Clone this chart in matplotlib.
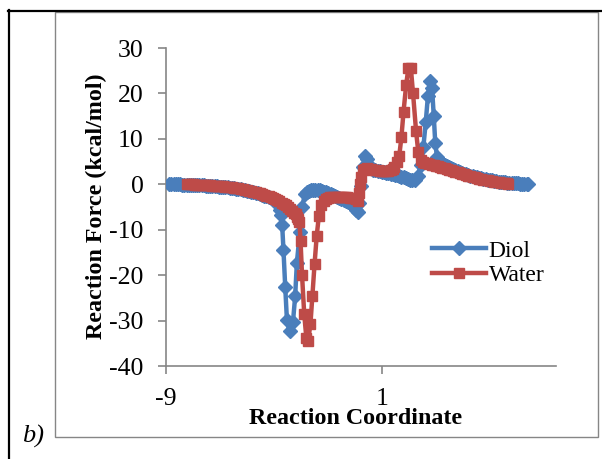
import matplotlib
matplotlib.use("Agg")
import matplotlib.pyplot as plt
from matplotlib.lines import Line2D
from matplotlib.patches import Rectangle

plt.rcParams['font.family'] = ['Liberation Serif', 'DejaVu Serif']
plt.rcParams['axes.unicode_minus'] = False

# Diol reaction force profile (IRC points)
diol_x = [-8.85, -8.75, -8.65, -8.55, -8.45, -8.35, -8.25, -8.15, -8.05, -7.95,
          -7.85, -7.75, -7.65, -7.55, -7.45, -7.35, -7.25, -7.15, -7.05, -6.95,
          -6.85, -6.75, -6.65, -6.55, -6.45, -6.35, -6.25, -6.15, -6.05, -5.95,
          -5.85, -5.75, -5.65, -5.55, -5.45, -5.35, -5.25, -5.15, -5.05, -4.95,
          -4.85, -4.75, -4.65, -4.55, -4.45, -4.35, -4.25, -4.15, -4.05, -3.95,
          -3.87, -3.80, -3.73, -3.68, -3.62, -3.56, -3.48, -3.40, -3.28, -3.12,
          -3.02, -2.94, -2.80, -2.68, -2.58, -2.48, -2.38, -2.28, -2.18, -2.08,
          -1.98, -1.88, -1.78, -1.68, -1.58, -1.48, -1.38, -1.28, -1.18, -1.08,
          -0.98, -0.88, -0.78, -0.68, -0.58, -0.48, -0.38, -0.28, -0.20, -0.13,
          -0.05, 0.05, 0.12, 0.22, 0.30, 0.40, 0.50, 0.60, 0.70, 0.80,
          0.90, 1.00, 1.10, 1.20, 1.30, 1.40, 1.50, 1.60, 1.70, 1.80,
          1.90, 2.00, 2.10, 2.20, 2.30, 2.40, 2.52, 2.65, 2.80, 2.92,
          3.03, 3.13, 3.23, 3.32, 3.40, 3.47, 3.55, 3.62, 3.70, 3.80,
          3.90, 4.00, 4.10, 4.20, 4.30, 4.40, 4.50, 4.60, 4.70, 4.80,
          4.90, 5.00, 5.10, 5.20, 5.30, 5.40, 5.50, 5.60, 5.70, 5.80,
          5.90, 6.00, 6.10, 6.20, 6.30, 6.40, 6.50, 6.60, 6.70, 6.80,
          6.90, 7.00, 7.10, 7.20, 7.30, 7.40, 7.50, 7.60, 7.70, 7.75]
diol_y = [0.00, -0.01, -0.01, -0.02, -0.03, -0.04, -0.05, -0.06, -0.08, -0.09,
          -0.11, -0.13, -0.15, -0.17, -0.20, -0.22, -0.25, -0.28, -0.31, -0.34,
          -0.38, -0.42, -0.46, -0.50, -0.55, -0.60, -0.65, -0.70, -0.76, -0.82,
          -0.89, -0.96, -1.04, -1.12, -1.21, -1.30, -1.40, -1.51, -1.62, -1.74,
          -1.87, -2.00, -2.15, -2.30, -2.47, -2.65, -2.85, -3.06, -3.30, -3.60,
          -4.00, -4.60, -5.60, -6.70, -9.00, -14.50, -22.50, -29.90, -32.40, -30.30,
          -24.70, -17.30, -10.40, -5.00, -2.10, -1.60, -1.38, -1.28, -1.22, -1.20,
          -1.24, -1.32, -1.45, -1.60, -1.78, -1.96, -2.15, -2.36, -2.58, -2.80,
          -3.03, -3.25, -3.46, -3.68, -3.90, -4.15, -4.50, -5.00, -5.60, -6.20,
          -4.20, -0.30, 3.80, 6.20, 5.60, 4.30, 3.60, 3.25, 3.05, 2.92,
          2.82, 2.72, 2.62, 2.52, 2.42, 2.32, 2.22, 2.12, 2.00, 1.86,
          1.70, 1.52, 1.32, 1.12, 0.95, 0.85, 0.95, 1.80, 4.20, 8.30,
          13.80, 19.50, 22.80, 21.20, 15.00, 9.00, 6.00, 5.40, 4.95, 4.55,
          4.25, 3.95, 3.70, 3.48, 3.27, 3.07, 2.88, 2.70, 2.53, 2.37,
          2.22, 2.07, 1.93, 1.80, 1.67, 1.55, 1.43, 1.32, 1.21, 1.11,
          1.01, 0.92, 0.84, 0.76, 0.68, 0.61, 0.55, 0.49, 0.43, 0.38,
          0.33, 0.29, 0.25, 0.22, 0.19, 0.16, 0.13, 0.11, 0.09, 0.08]

# Water reaction force profile (IRC points)
water_x = [-8.05, -7.95, -7.85, -7.75, -7.65, -7.55, -7.45, -7.35, -7.25, -7.15,
           -7.05, -6.95, -6.85, -6.75, -6.65, -6.55, -6.45, -6.35, -6.25, -6.15,
           -6.05, -5.95, -5.85, -5.75, -5.65, -5.55, -5.45, -5.35, -5.25, -5.15,
           -5.05, -4.95, -4.85, -4.75, -4.65, -4.55, -4.45, -4.35, -4.25, -4.15,
           -4.05, -3.95, -3.85, -3.75, -3.65, -3.55, -3.45, -3.35, -3.25, -3.15,
           -3.07, -3.00, -2.93, -2.87, -2.82, -2.77, -2.70, -2.60, -2.50, -2.42,
           -2.31, -2.22, -2.12, -2.02, -1.92, -1.80, -1.70, -1.60, -1.50, -1.40,
           -1.30, -1.20, -1.10, -1.00, -0.90, -0.80, -0.70, -0.60, -0.50, -0.40,
           -0.30, -0.20, -0.12, -0.05, 0.00, 0.05, 0.12, 0.20, 0.30, 0.40,
           0.50, 0.60, 0.70, 0.80, 0.90, 1.00, 1.10, 1.20, 1.30, 1.40,
           1.50, 1.58, 1.70, 1.80, 1.90, 2.00, 2.12, 2.22, 2.34, 2.44,
           2.58, 2.68, 2.80, 2.90, 3.00, 3.10, 3.20, 3.30, 3.40, 3.50,
           3.60, 3.70, 3.80, 3.90, 4.00, 4.10, 4.20, 4.30, 4.40, 4.50,
           4.60, 4.70, 4.80, 4.90, 5.00, 5.10, 5.20, 5.30, 5.40, 5.50,
           5.60, 5.70, 5.80, 5.90, 6.00, 6.10, 6.20, 6.30, 6.40, 6.50,
           6.60, 6.70, 6.80, 6.85]
water_y = [0.00, -0.01, -0.02, -0.03, -0.05, -0.07, -0.09, -0.11, -0.14, -0.17,
           -0.20, -0.23, -0.27, -0.31, -0.35, -0.39, -0.43, -0.47, -0.52, -0.57,
           -0.62, -0.69, -0.76, -0.84, -0.92, -1.01, -1.10, -1.20, -1.30, -1.41,
           -1.52, -1.64, -1.76, -1.89, -2.02, -2.17, -2.32, -2.48, -2.65, -2.85,
           -3.05, -3.27, -3.50, -3.77, -4.05, -4.35, -4.65, -5.00, -5.40, -5.85,
           -6.25, -6.65, -7.15, -7.75, -8.40, -12.40, -20.00, -28.50, -33.90, -34.50,
           -30.70, -24.50, -17.50, -11.30, -6.90, -4.60, -3.70, -3.20, -3.00, -2.90,
           -2.85, -2.80, -2.78, -2.76, -2.76, -2.78, -2.82, -2.86, -2.92, -3.00,
           -3.12, -3.30, -3.70, -2.00, 0.00, 1.60, 3.20, 3.45, 3.50, 3.42,
           3.32, 3.22, 3.12, 3.04, 2.99, 2.96, 2.95, 2.96, 3.00, 3.10,
           3.30, 3.70, 4.80, 6.20, 10.30, 16.00, 21.80, 25.50, 25.50, 20.00,
           11.70, 7.20, 5.30, 4.95, 4.75, 4.60, 4.45, 4.32, 4.20, 4.07,
           3.93, 3.80, 3.66, 3.51, 3.36, 3.21, 3.05, 2.90, 2.75, 2.60,
           2.45, 2.30, 2.16, 2.02, 1.88, 1.75, 1.62, 1.50, 1.38, 1.26,
           1.15, 1.04, 0.94, 0.84, 0.75, 0.66, 0.58, 0.50, 0.43, 0.36,
           0.30, 0.24, 0.19, 0.16]

y_ticks = [-40, -30, -20, -10, 0, 10, 20, 30]
x_ticks = [-9, 1]

W, H = 602, 459
fig = plt.figure(figsize=(W / 100, H / 100), dpi=100)

# outer frame pieces and chart-area box
fig.add_artist(Line2D([8 / W, 1], [1 - 10.5 / H, 1 - 10.5 / H], color='black', lw=1.6,
                      transform=fig.transFigure))
fig.add_artist(Line2D([8.5 / W, 8.5 / W], [0, 1 - 10 / H], color='black', lw=1.6,
                      transform=fig.transFigure))
fig.add_artist(Rectangle((55.5 / W, 1 - 436.5 / H), (598 - 55.5) / W, (436.5 - 12) / H,
                         fill=False, edgecolor='#868686', lw=1.0, transform=fig.transFigure))

ax = fig.add_axes([166 / W, 1 - 366 / H, (556 - 166) / W, 318 / H])
ax.patch.set_alpha(0)

ax.plot(diol_x, diol_y, color='#4A7EBB', lw=3.2, marker='D', ms=7,
        markerfacecolor='#4A7EBB', markeredgecolor='#4A7EBB', label='Diol', zorder=3)
ax.plot(water_x, water_y, color='#BE4B48', lw=3.2, marker='s', ms=7.5,
        markerfacecolor='#BE4B48', markeredgecolor='#BE4B48', label='Water', zorder=4)

ax.set_xlim(-9, 9.06)
ax.set_ylim(-40, 30)
ax.set_xticks(x_ticks)
ax.set_yticks(y_ticks)
for s in ['top', 'right']:
    ax.spines[s].set_visible(False)
for s in ['left', 'bottom']:
    ax.spines[s].set_color('#868686')
    ax.spines[s].set_linewidth(1.2)
ax.tick_params(direction='out', length=6, width=1.2, color='#868686',
               labelsize=18.5, pad=10)

fig.text(96 / W, 1 - 206 / H, 'Reaction Force (kcal/mol)', rotation=90,
         ha='center', va='center', fontsize=17.3, fontweight='bold')
fig.text(356 / W, 1 - 419 / H, 'Reaction Coordinate', ha='center', va='center',
         fontsize=17.3, fontweight='bold')
fig.text(33 / W, 1 - 436 / H, 'b)', ha='center', va='center', fontsize=19,
         style='italic')

ax.legend(loc='upper left', bbox_to_anchor=(432 / W, 1 - 240 / H),
          bbox_transform=fig.transFigure, frameon=False, fontsize=17,
          handlelength=2.3, handletextpad=0.1, labelspacing=0.12,
          borderpad=0, borderaxespad=0)

fig.savefig('out.png', dpi=100)
